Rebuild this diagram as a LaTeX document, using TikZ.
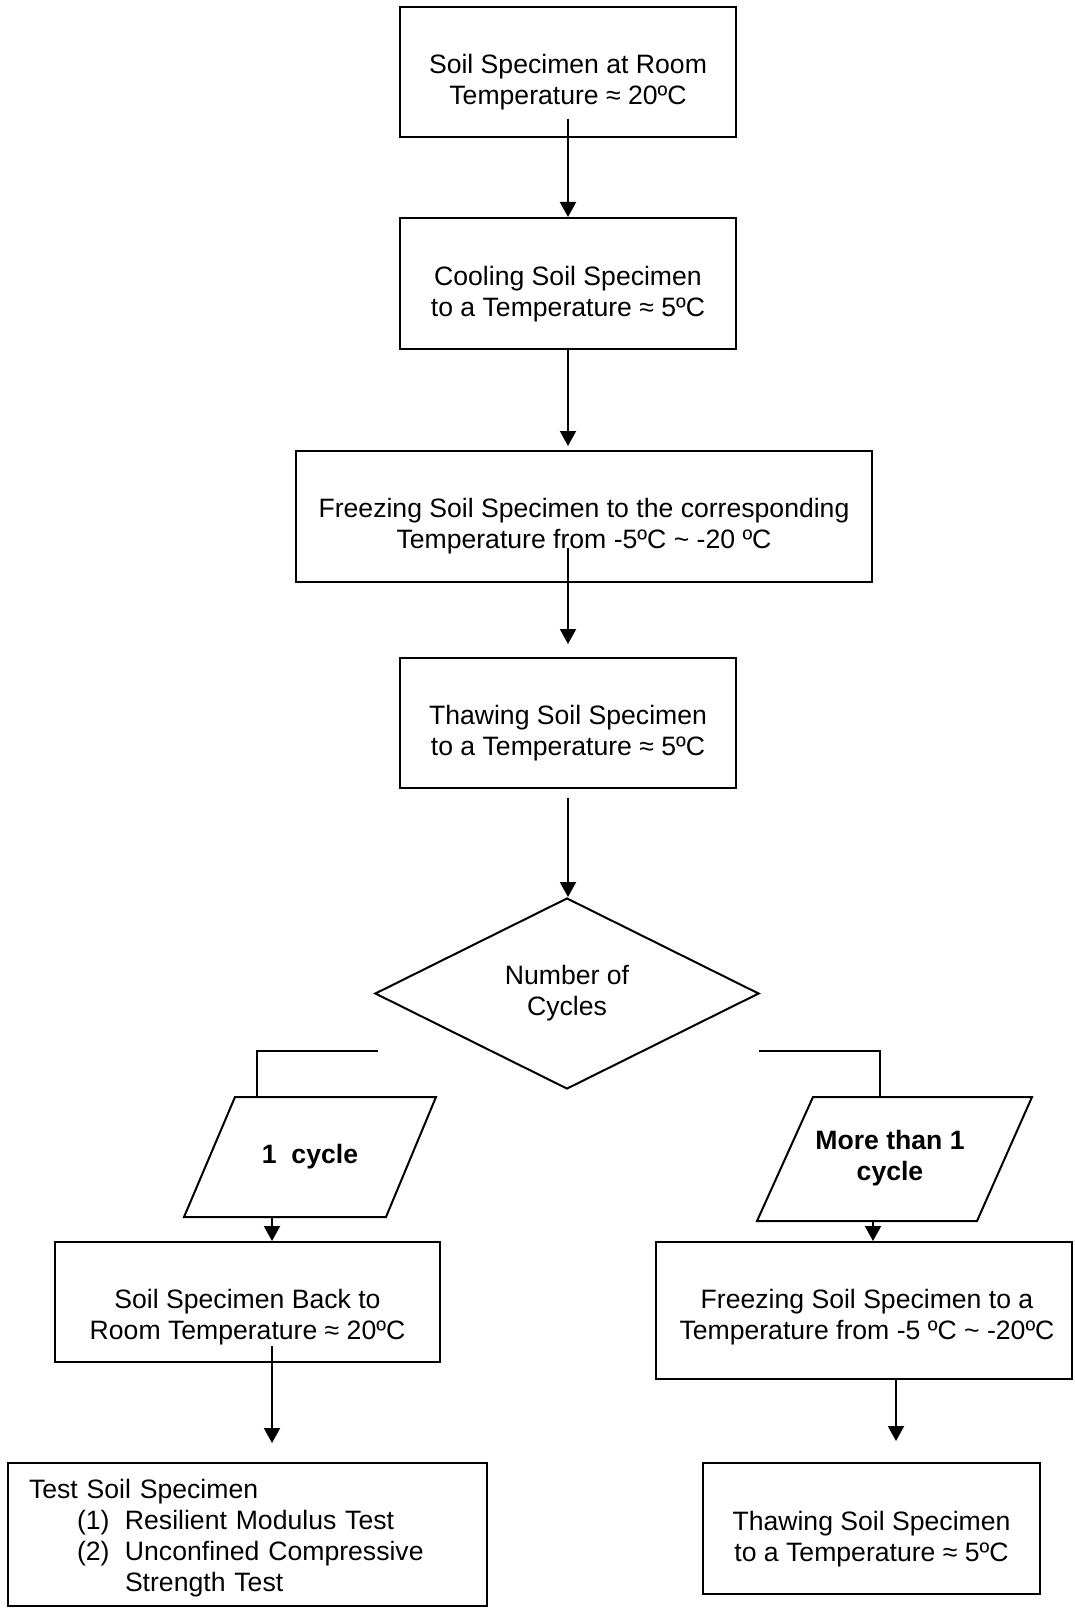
\documentclass[tikz,border=0pt]{standalone}
\usepackage{fontspec}
\setmainfont{Liberation Sans}
\usetikzlibrary{arrows.meta,shapes.geometric}
\begin{document}
\begin{tikzpicture}[x=1pt,y=-1pt,
  every node/.style={font=\fontsize{26.6}{31}\selectfont},
  box/.style={draw,line width=2pt,rectangle,inner sep=0pt},
  txt/.style={align=center,inner sep=0pt},
  bold/.style={font=\fontsize{26.6}{31}\selectfont\bfseries,align=center,inner sep=0pt},
  ln/.style={line width=2pt},
  arr/.style={line width=2pt,-{Triangle[length=15pt,width=16pt]}}]
\useasboundingbox (0,0) rectangle (1074,1608);

% main column
\node[box,minimum width=336pt,minimum height=130pt,
  label={[txt,yshift=-10.5pt]center:{Soil Specimen at Room\\Temperature ≈ 20ºC}}] (b1) at (568,72) {};
\node[box,minimum width=336pt,minimum height=131pt,
  label={[txt,yshift=-11pt]center:{Cooling Soil Specimen\\to a Temperature ≈ 5ºC}}] (b2) at (568,283.5) {};
\node[box,minimum width=576pt,minimum height=131pt,
  label={[txt,yshift=-9.5pt]center:{Freezing Soil Specimen to the corresponding\\Temperature from -5ºC \textasciitilde{} -20 ºC}}] (b3) at (584,516.5) {};
\node[box,minimum width=336pt,minimum height=130pt,
  label={[txt,yshift=-10pt]center:{Thawing Soil Specimen\\to a Temperature ≈ 5ºC}}] (b4) at (568,723) {};
\node[draw,line width=2pt,diamond,minimum width=384pt,minimum height=191pt,
  inner sep=0pt,align=center] (d) at (567,993.5) {Number of\\Cycles};

\coordinate (a1s) at (568,119);
\coordinate (a3s) at (568,548);
\coordinate (a4s) at (568,798);
\draw[arr] (a1s) -- (b2.north);
\draw[arr,shorten >=4pt] (b2.south) -- (b2.south |- b3.north);
\draw[arr,shorten >=13pt] (a3s) -- (a3s |- b4.north);
\draw[arr] (a4s) -- (a4s |- d.north);

% parallelograms
\draw[ln] (235,1097) -- (436,1097) -- (386,1217) -- (184,1217) -- cycle;
\node[bold] (p1) at (310,1157) {1\ \ cycle};
\draw[ln] (813,1097) -- (1032,1097) -- (977,1221) -- (757,1221) -- cycle;
\node[bold] (p2) at (890,1158) {More than 1\\cycle};
\coordinate (p1t) at (257,1097);
\coordinate (p2t) at (880,1097);
\coordinate (p1b) at (272,1217);
\coordinate (p2b) at (873,1221);

% connectors from the decision
\coordinate (dl) at (378,1051);
\coordinate (dr) at (759,1051);
\draw[ln] (dl) -- (dl -| p1t) -- (p1t);
\draw[ln] (dr) -- (dr -| p2t) -- (p2t);

% lower boxes
\node[box,minimum width=385pt,minimum height=120pt,
  label={[txt,yshift=-15pt]center:{Soil Specimen Back to\\Room Temperature ≈ 20ºC}}] (bl) at (247.5,1302) {};
\node[box,minimum width=416pt,minimum height=137pt,
  label={[txt,yshift=-7pt,xshift=3pt]center:{Freezing Soil Specimen to a\\Temperature from -5 ºC \textasciitilde{} -20ºC}}] (br) at (864,1310.5) {};
\node[box,minimum width=479pt,minimum height=143pt,
  label={[align=left,text width=441pt,inner sep=0pt,yshift=-4pt,xshift=2pt]center:{Test Soil Specimen\\
   \hspace*{48pt}\makebox[48pt][l]{(1)}Resilient Modulus Test\\
   \hspace*{48pt}\makebox[48pt][l]{(2)}Unconfined Compressive\\
   \hspace*{96pt}Strength Test}}] (tl) at (247.5,1534.5) {};
\node[box,minimum width=337pt,minimum height=131pt,
  label={[txt,yshift=-10.5pt]center:{Thawing Soil Specimen\\to a Temperature ≈ 5ºC}}] (trb) at (871.5,1528.5) {};

\draw[arr] (p1b) -- (p1b |- bl.north);
\draw[arr] (p2b) -- (p2b |- br.north);
\coordinate (bls) at (272,1346);
\coordinate (brs) at (896,1379);
\draw[arr,shorten >=19pt] (bls) -- (bls |- tl.north);
\draw[arr,shorten >=21pt] (brs) -- (brs |- trb.north);
\end{tikzpicture}
\end{document}
